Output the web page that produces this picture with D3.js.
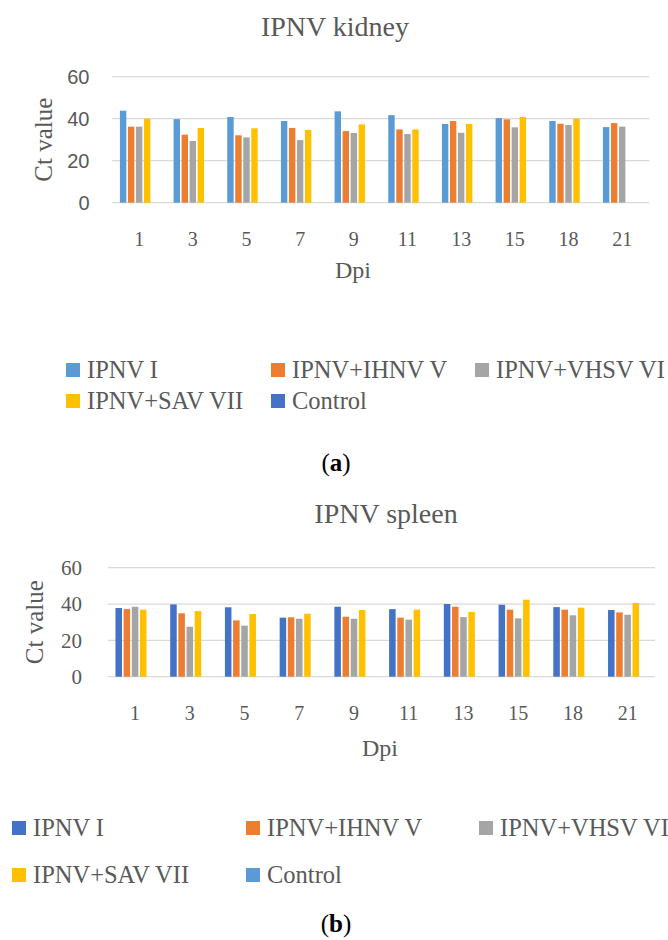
<!DOCTYPE html>
<html>
<head>
<meta charset="utf-8">
<script src="https://cdn.jsdelivr.net/npm/d3@7"></script>
<style>
  html, body { margin: 0; padding: 0; background: #ffffff; }
  svg { display: block; }
</style>
</head>
<body>
<svg id="fig" width="668" height="940"></svg>
<script>
// Sampling days (days post infection)
const days = ["1", "3", "5", "7", "9", "11", "13", "15", "18", "21"];
const seriesNames = ["IPNV I", "IPNV+IHNV V", "IPNV+VHSV VI", "IPNV+SAV VII", "Control"];
const yTicks = [0, 20, 40, 60];

// Ct values, kidney
const kidneyIPNV = [43.8, 39.8, 40.8, 38.9, 43.5, 41.7, 37.5, 40.3, 38.9, 36.0];
const kidneyIHNV = [36.2, 32.4, 32.1, 35.6, 34.1, 34.9, 38.9, 39.7, 37.6, 37.9];
const kidneyVHSV = [36.2, 29.4, 31.1, 29.8, 33.2, 32.7, 33.3, 35.9, 37.0, 36.2];
const kidneySAV  = [40.0, 35.6, 35.4, 34.6, 37.3, 34.9, 37.5, 40.8, 40.0, null];
const kidneyCtrl = [null, null, null, null, null, null, null, null, null, null];

// Ct values, spleen
const spleenIPNV = [37.8, 39.8, 38.2, 32.5, 38.5, 37.2, 40.0, 39.6, 38.3, 36.7];
const spleenIHNV = [37.2, 34.9, 31.0, 32.7, 33.0, 32.5, 38.5, 36.9, 36.9, 35.4];
const spleenVHSV = [38.5, 27.5, 28.1, 31.9, 31.9, 31.4, 32.8, 32.1, 33.8, 34.1];
const spleenSAV  = [36.9, 36.1, 34.5, 34.7, 36.7, 36.9, 35.6, 42.4, 38.0, 40.6];
const spleenCtrl = [null, null, null, null, null, null, null, null, null, null];

const kidneyColors = ["#5B9BD5", "#ED7D31", "#A5A5A5", "#FFC000", "#4472C4"];
const spleenColors = ["#4472C4", "#ED7D31", "#A5A5A5", "#FFC000", "#5B9BD5"];

const TEXT = "#595959";
const GRID = "#D9D9D9";
const SERIF = "'Liberation Serif', 'Times New Roman', serif";
const SANS = "'Liberation Sans', Arial, sans-serif";

const svg = d3.select("#fig");

function drawPanel(cfg) {
  const g = svg.append("g");
  const series = cfg.values;

  const x0 = d3.scaleBand().domain(days).range([cfg.left, cfg.right]).paddingInner(0).paddingOuter(0);
  const x1 = d3.scaleBand().domain(seriesNames).range([0, x0.bandwidth()])
    .paddingInner(0.2).paddingOuter(0.95);
  const y = d3.scaleLinear().domain([0, 60]).range([cfg.bottom, cfg.top]);

  // title
  g.append("text")
    .attr("x", cfg.titleX).attr("y", cfg.titleY)
    .attr("text-anchor", "middle")
    .style("font-family", SERIF).style("font-size", "28px")
    .attr("fill", TEXT)
    .text(cfg.title);

  // gridlines (the 0 line doubles as the category axis)
  g.append("g").selectAll("line").data(yTicks).join("line")
    .attr("x1", cfg.left).attr("x2", cfg.right)
    .attr("y1", d => y(d)).attr("y2", d => y(d))
    .attr("stroke", GRID).attr("stroke-width", 1.3);

  // value axis labels
  const yAxis = d3.axisLeft(y).tickValues(yTicks).tickSize(0).tickPadding(0);
  const ya = g.append("g").attr("transform", `translate(${cfg.yLabelRight},0)`).call(yAxis);
  ya.select(".domain").remove();
  ya.attr("font-family", null).attr("font-size", null);
  ya.selectAll("text")
    .style("font-family", cfg.yTickFont).style("font-size", cfg.yTickSize + "px")
    .attr("fill", TEXT);

  // category axis labels
  const xAxis = d3.axisBottom(x0).tickSize(0).tickPadding(0);
  const xa = g.append("g").attr("transform", `translate(0,${cfg.bottom})`).call(xAxis);
  xa.select(".domain").remove();
  xa.attr("font-family", null).attr("font-size", null);
  xa.selectAll("text")
    .attr("dy", null)
    .attr("y", cfg.xTickOffset)
    .style("font-family", SERIF).style("font-size", "20px")
    .attr("fill", TEXT);

  // bars
  const rows = [];
  series.forEach((vals, si) => {
    vals.forEach((v, di) => {
      if (v != null) rows.push({ s: seriesNames[si], d: days[di], v: v, c: cfg.colors[si] });
    });
  });
  g.append("g").selectAll("rect").data(rows).join("rect")
    .attr("x", d => x0(d.d) + x1(d.s))
    .attr("width", x1.bandwidth())
    .attr("y", d => y(d.v))
    .attr("height", d => y(0) - y(d.v))
    .attr("fill", d => d.c);

  // axis titles
  g.append("text")
    .attr("transform", `translate(${cfg.ctX},${(cfg.top + cfg.bottom) / 2}) rotate(-90)`)
    .attr("text-anchor", "middle")
    .style("font-family", SERIF).style("font-size", "25px")
    .attr("fill", TEXT)
    .text("Ct value");

  g.append("text")
    .attr("x", cfg.dpiX).attr("y", cfg.dpiY)
    .attr("text-anchor", "middle")
    .style("font-family", SERIF).style("font-size", "24px")
    .attr("fill", TEXT)
    .text("Dpi");

  // legend, three columns
  const leg = g.append("g");
  seriesNames.forEach((name, i) => {
    const col = i % 3, row = Math.floor(i / 3);
    const lx = cfg.legendX[col], ly = cfg.legendY[row];
    leg.append("rect")
      .attr("x", lx).attr("y", ly - 7)
      .attr("width", 14).attr("height", 14)
      .attr("fill", cfg.colors[i]);
    leg.append("text")
      .attr("x", lx + 21).attr("y", ly + 8)
      .style("font-family", SERIF).style("font-size", "24.5px")
      .attr("fill", TEXT)
      .text(name);
  });

  // panel caption
  const cap = g.append("text")
    .attr("x", 336).attr("y", cfg.capY)
    .attr("text-anchor", "middle")
    .style("font-family", SERIF).style("font-size", "25px")
    .attr("fill", "#000000");
  cap.append("tspan").text("(");
  cap.append("tspan").attr("font-weight", "bold").text(cfg.cap);
  cap.append("tspan").text(")");
}

drawPanel({
  title: "IPNV kidney", titleX: 335, titleY: 36,
  values: [kidneyIPNV, kidneyIHNV, kidneyVHSV, kidneySAV, kidneyCtrl],
  colors: kidneyColors,
  left: 112.3, right: 649, top: 76.7, bottom: 202.7,
  yLabelRight: 89.5, yTickFont: SANS, yTickSize: 20,
  xTickOffset: 43, ctX: 52, dpiX: 353, dpiY: 278,
  legendX: [66, 271, 475], legendY: [370, 401],
  cap: "a", capY: 471
});

drawPanel({
  title: "IPNV spleen", titleX: 386, titleY: 523,
  values: [spleenIPNV, spleenIHNV, spleenVHSV, spleenSAV, spleenCtrl],
  colors: spleenColors,
  left: 107.7, right: 655, top: 567.7, bottom: 676.7,
  yLabelRight: 82, yTickFont: SERIF, yTickSize: 21,
  xTickOffset: 43, ctX: 43, dpiX: 380, dpiY: 756,
  legendX: [12, 246, 479], legendY: [828, 875],
  cap: "b", capY: 932
});
</script>
</body>
</html>
